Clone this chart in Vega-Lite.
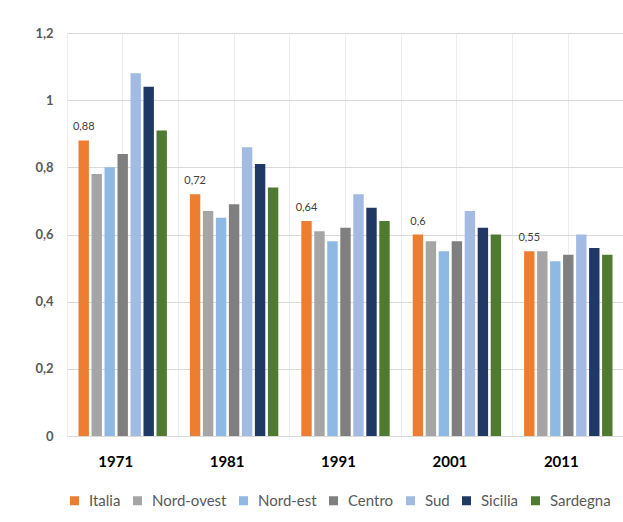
{
  "$schema": "https://vega.github.io/schema/vega-lite/v6.json",
  "width": 557,
  "height": 403,
  "autosize": {"type": "none"},
  "padding": {"left": 67, "top": 33, "right": 0, "bottom": 86},
  "background": "white",
  "config": {
    "locale": {"number": {"decimal": ",", "thousands": ".", "grouping": [3], "currency": ["", " €"]}},
    "font": "Lato",
    "view": {"stroke": null}
  },
  "data": {
    "values": [
      {"anno": "1971", "area": "Italia", "valore": 0.88},
      {"anno": "1971", "area": "Nord-ovest", "valore": 0.78},
      {"anno": "1971", "area": "Nord-est", "valore": 0.80},
      {"anno": "1971", "area": "Centro", "valore": 0.84},
      {"anno": "1971", "area": "Sud", "valore": 1.08},
      {"anno": "1971", "area": "Sicilia", "valore": 1.04},
      {"anno": "1971", "area": "Sardegna", "valore": 0.91},
      {"anno": "1981", "area": "Italia", "valore": 0.72},
      {"anno": "1981", "area": "Nord-ovest", "valore": 0.67},
      {"anno": "1981", "area": "Nord-est", "valore": 0.65},
      {"anno": "1981", "area": "Centro", "valore": 0.69},
      {"anno": "1981", "area": "Sud", "valore": 0.86},
      {"anno": "1981", "area": "Sicilia", "valore": 0.81},
      {"anno": "1981", "area": "Sardegna", "valore": 0.74},
      {"anno": "1991", "area": "Italia", "valore": 0.64},
      {"anno": "1991", "area": "Nord-ovest", "valore": 0.61},
      {"anno": "1991", "area": "Nord-est", "valore": 0.58},
      {"anno": "1991", "area": "Centro", "valore": 0.62},
      {"anno": "1991", "area": "Sud", "valore": 0.72},
      {"anno": "1991", "area": "Sicilia", "valore": 0.68},
      {"anno": "1991", "area": "Sardegna", "valore": 0.64},
      {"anno": "2001", "area": "Italia", "valore": 0.60},
      {"anno": "2001", "area": "Nord-ovest", "valore": 0.58},
      {"anno": "2001", "area": "Nord-est", "valore": 0.55},
      {"anno": "2001", "area": "Centro", "valore": 0.58},
      {"anno": "2001", "area": "Sud", "valore": 0.67},
      {"anno": "2001", "area": "Sicilia", "valore": 0.62},
      {"anno": "2001", "area": "Sardegna", "valore": 0.60},
      {"anno": "2011", "area": "Italia", "valore": 0.55},
      {"anno": "2011", "area": "Nord-ovest", "valore": 0.55},
      {"anno": "2011", "area": "Nord-est", "valore": 0.52},
      {"anno": "2011", "area": "Centro", "valore": 0.54},
      {"anno": "2011", "area": "Sud", "valore": 0.60},
      {"anno": "2011", "area": "Sicilia", "valore": 0.56},
      {"anno": "2011", "area": "Sardegna", "valore": 0.54}
    ]
  },
  "encoding": {
    "xOffset": {
      "field": "area",
      "type": "nominal",
      "sort": ["Italia", "Nord-ovest", "Nord-est", "Centro", "Sud", "Sicilia", "Sardegna"],
      "scale": {"paddingInner": 0.2, "paddingOuter": 0.885}
    },
    "y": {
      "field": "valore",
      "type": "quantitative",
      "scale": {"domain": [0, 1.2], "nice": false},
      "axis": {
        "values": [0, 0.2, 0.4, 0.6, 0.8, 1, 1.2],
        "format": ".2~f",
        "title": null,
        "domain": false,
        "ticks": false,
        "labelPadding": 14,
        "labelFontSize": 13,
        "labelFontWeight": "bold",
        "labelColor": "#595959",
        "gridColor": "#D9D9D9",
        "gridWidth": 1
      }
    }
  },
  "layer": [
    {
      "mark": {"type": "bar"},
      "encoding": {
        "x": {
          "field": "anno",
          "type": "nominal",
          "scale": {"paddingInner": 0, "paddingOuter": 0},
          "axis": {
            "title": null,
            "labelAngle": 0,
            "labelFontSize": 15,
            "labelFontWeight": "bold",
            "labelColor": "#000000",
            "labelPadding": 18,
            "labelOffset": -7,
            "ticks": false,
            "domainColor": "#D9D9D9",
            "grid": true,
            "bandPosition": 0,
            "gridColor": "#ECECEC"
          }
        },
        "color": {
          "field": "area",
          "type": "nominal",
          "sort": ["Italia", "Nord-ovest", "Nord-est", "Centro", "Sud", "Sicilia", "Sardegna"],
          "scale": {
            "domain": ["Italia", "Nord-ovest", "Nord-est", "Centro", "Sud", "Sicilia", "Sardegna"],
            "range": ["#ED7D31", "#A5A5A5", "#8DB9E2", "#7F7F7F", "#A3BAE2", "#203864", "#4F7B31"]
          },
          "legend": {
            "orient": "bottom",
            "direction": "horizontal",
            "title": null,
            "symbolType": "square",
            "symbolSize": 81,
            "symbolStrokeWidth": 0,
            "labelFontSize": 15,
            "labelColor": "#595959",
            "labelOffset": 7,
            "columnPadding": 9,
            "offset": 24
          }
        }
      }
    },
    {
      "transform": [{"filter": "datum.area == 'Italia'"}],
      "mark": {"type": "text", "fontSize": 11, "color": "#404040", "baseline": "middle", "dy": -13},
      "encoding": {
        "x": {
          "field": "anno",
          "type": "nominal",
          "axis": {
            "title": null,
            "labels": false,
            "ticks": false,
            "domain": false,
            "grid": true,
            "bandPosition": 0.5,
            "gridColor": "#ECECEC"
          }
        },
        "text": {"field": "valore", "type": "quantitative", "format": ".2~f"}
      }
    }
  ],
  "resolve": {"axis": {"x": "independent"}}
}
